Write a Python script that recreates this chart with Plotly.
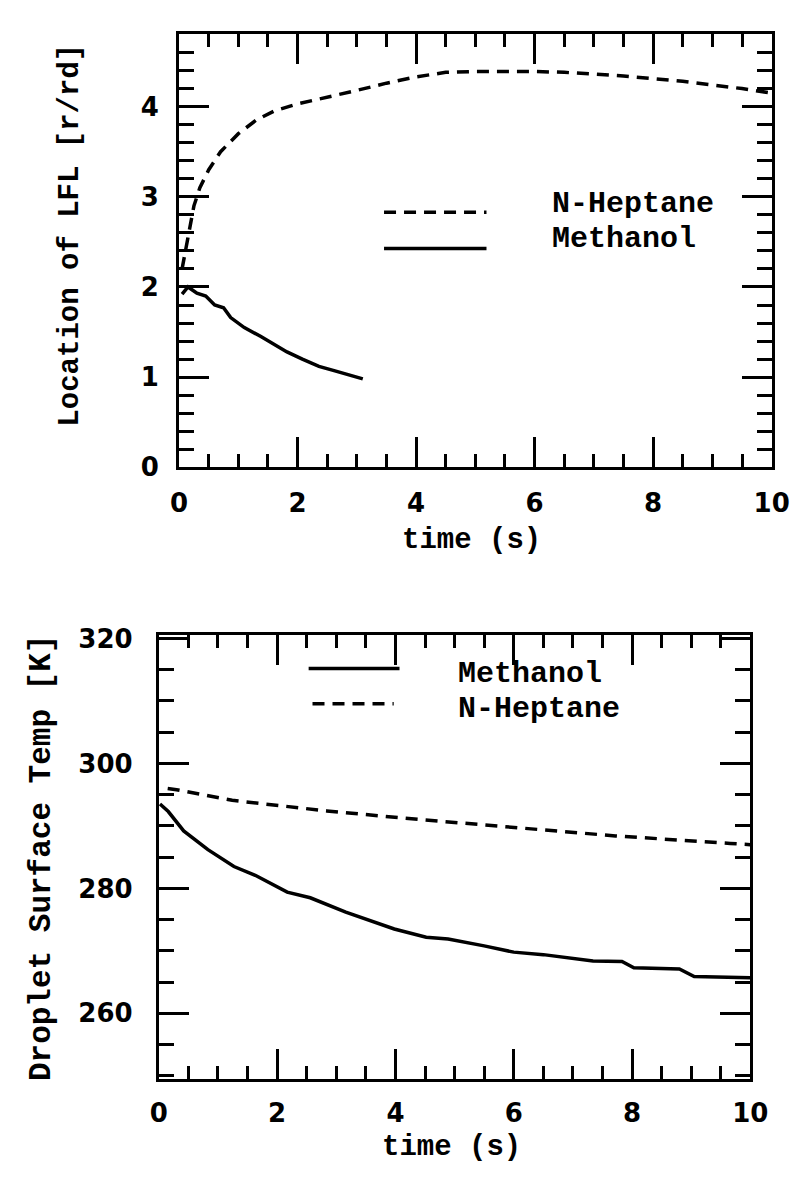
import plotly.graph_objects as go

W, H = 808, 1178

# ---------------- data ----------------
top_hept_t = [0.05, 0.15, 0.25, 0.35, 0.5, 0.7, 1.0, 1.3, 1.6, 2.0, 2.5, 3.0, 3.5, 4.0,
              4.5, 5.0, 5.5, 6.0, 6.5, 7.0, 7.5, 8.0, 8.5, 9.0, 9.5, 10.0]
top_hept_y = [2.2, 2.55, 2.9, 3.1, 3.3, 3.5, 3.7, 3.85, 3.95, 4.03, 4.1, 4.18, 4.26, 4.33,
              4.38, 4.39, 4.39, 4.39, 4.38, 4.36, 4.34, 4.31, 4.28, 4.24, 4.2, 4.15]

top_meth_t = [0.05, 0.15, 0.3, 0.45, 0.6, 0.75, 0.87, 1.1, 1.38, 1.6, 1.82, 2.08, 2.36,
              2.63, 2.9, 3.1]
top_meth_y = [1.92, 2.0, 1.93, 1.9, 1.8, 1.77, 1.66, 1.55, 1.45, 1.37, 1.28, 1.2, 1.12,
              1.07, 1.02, 0.98]

bot_meth_t = [0.02, 0.16, 0.42, 0.83, 1.27, 1.63, 2.17, 2.56, 3.16, 3.7, 3.98, 4.52, 4.89,
              5.5, 6.0, 6.5, 7.0, 7.34, 7.83, 8.03, 8.8, 9.05, 10.0]
bot_meth_y = [293.5, 292.3, 289.2, 286.2, 283.5, 282.1, 279.4, 278.5, 276.2, 274.5, 273.5,
              272.2, 271.9, 270.8, 269.8, 269.4, 268.8, 268.4, 268.3, 267.3, 267.1, 265.9,
              265.7]

bot_hept_t = [0.15, 0.3, 1.24, 2.84, 4.44, 6.18, 7.72, 9.66, 10.0]
bot_hept_y = [296.0, 295.8, 294.1, 292.4, 291.0, 289.6, 288.4, 287.2, 287.0]

x_ticks = [0, 2, 4, 6, 8, 10]
top_y_ticks = [0, 1, 2, 3, 4]
bot_y_ticks = [260, 280, 300, 320]

top_y_title = "Location of LFL [r/rd]"
bot_y_title = "Droplet Surface Temp [K]"
x_title = "time (s)"
top_legend = ["N-Heptane", "Methanol"]
bot_legend = ["Methanol", "N-Heptane"]

# ---------------- helpers ----------------
def px(x):
    return x / W

def py(y):
    return 1 - y / H

TICK_FONT = dict(family="DejaVu Sans", size=26, color="black", weight="bold")
TEXT_FONT = "Liberation Mono"
INK = "black"
DASH = "12px,8px"

fig = go.Figure()

fig.add_trace(go.Scatter(x=top_hept_t, y=top_hept_y, mode="lines", xaxis="x", yaxis="y",
                         line=dict(color=INK, width=3.5, dash=DASH),
                         name=top_legend[0], showlegend=False))
fig.add_trace(go.Scatter(x=top_meth_t, y=top_meth_y, mode="lines", xaxis="x", yaxis="y",
                         line=dict(color=INK, width=3.5),
                         name=top_legend[1], showlegend=False))
fig.add_trace(go.Scatter(x=bot_meth_t, y=bot_meth_y, mode="lines", xaxis="x2", yaxis="y2",
                         line=dict(color=INK, width=3.5),
                         name=bot_legend[0], showlegend=False))
fig.add_trace(go.Scatter(x=bot_hept_t, y=bot_hept_y, mode="lines", xaxis="x2", yaxis="y2",
                         line=dict(color=INK, width=3.5, dash=DASH),
                         name=bot_legend[1], showlegend=False))

def xaxis(domain, anchor, standoff):
    return dict(domain=domain, anchor=anchor, range=[0, 10], tickvals=x_ticks,
                showgrid=False, zeroline=False, showline=True, linecolor=INK, linewidth=3,
                mirror="ticks", ticks="inside", ticklen=30, tickwidth=3, tickcolor=INK,
                tickfont=TICK_FONT, ticklabelstandoff=standoff,
                minor=dict(dtick=0.5, ticks="inside", ticklen=13, tickwidth=3, tickcolor=INK))

def yaxis(domain, anchor, rng, ticks, minor_dtick, standoff):
    return dict(domain=domain, anchor=anchor, range=rng, tickvals=ticks,
                showgrid=False, zeroline=False, showline=True, linecolor=INK, linewidth=3,
                mirror="ticks", ticks="inside", ticklen=30, tickwidth=3, tickcolor=INK,
                tickfont=TICK_FONT, ticklabelstandoff=standoff,
                minor=dict(dtick=minor_dtick, ticks="inside", ticklen=15, tickwidth=3,
                           tickcolor=INK))

top_dom_x = [px(176), px(789)]
top_dom_y = [py(466), py(23)]
bot_dom_x = [px(155), px(767)]
bot_dom_y = [py(1092), py(638)]

fig.update_layout(
    width=W, height=H,
    margin=dict(l=0, r=0, t=0, b=0),
    paper_bgcolor="white", plot_bgcolor="white",
    showlegend=False,
    xaxis=xaxis(top_dom_x, "y", 10),
    yaxis=yaxis(top_dom_y, "x", [0, 4.8], top_y_ticks, 0.2, 12),
    xaxis2=xaxis(bot_dom_x, "y2", 9),
    yaxis2=yaxis(bot_dom_y, "x2", [249.5, 320.5], bot_y_ticks, 5, 18),
)

# axis titles
fig.add_annotation(text=top_y_title, x=px(64), y=py(228), xref="paper", yref="paper",
                   showarrow=False, textangle=-90, xanchor="center", yanchor="middle",
                   font=dict(family=TEXT_FONT, size=29, color=INK, weight="bold"))
fig.add_annotation(text=bot_y_title, x=px(33), y=py(866), xref="paper", yref="paper",
                   showarrow=False, textangle=-90, xanchor="center", yanchor="middle",
                   font=dict(family=TEXT_FONT, size=31, color=INK, weight="bold"))
fig.add_annotation(text=x_title, x=px(478), y=py(541), xref="paper", yref="paper",
                   showarrow=False, xanchor="center", yanchor="middle",
                   font=dict(family=TEXT_FONT, size=29, color=INK, weight="bold"))
fig.add_annotation(text=x_title, x=px(458), y=py(1162), xref="paper", yref="paper",
                   showarrow=False, xanchor="center", yanchor="middle",
                   font=dict(family=TEXT_FONT, size=29, color=INK, weight="bold"))

# custom legends (long line samples like the original)
def legend_entry(x0, x1, ly, dash, label, tx, ty, size):
    fig.add_shape(type="line", xref="paper", yref="paper",
                  x0=px(x0), x1=px(x1), y0=py(ly), y1=py(ly),
                  line=dict(color=INK, width=3.5, dash=dash))
    fig.add_annotation(text=label, x=px(tx), y=py(ty), xref="paper", yref="paper",
                       showarrow=False, xanchor="left", yanchor="middle",
                       font=dict(family=TEXT_FONT, size=size, color=INK, weight="bold"))

legend_entry(388, 494, 205, DASH, top_legend[0], 560, 197, 30)
legend_entry(388, 494, 242, "solid", top_legend[1], 560, 232, 30)
legend_entry(310, 404, 672, "solid", bot_legend[0], 462, 678, 30)
legend_entry(314, 398, 708, DASH, bot_legend[1], 462, 713, 30)

fig.write_html("out.html")
